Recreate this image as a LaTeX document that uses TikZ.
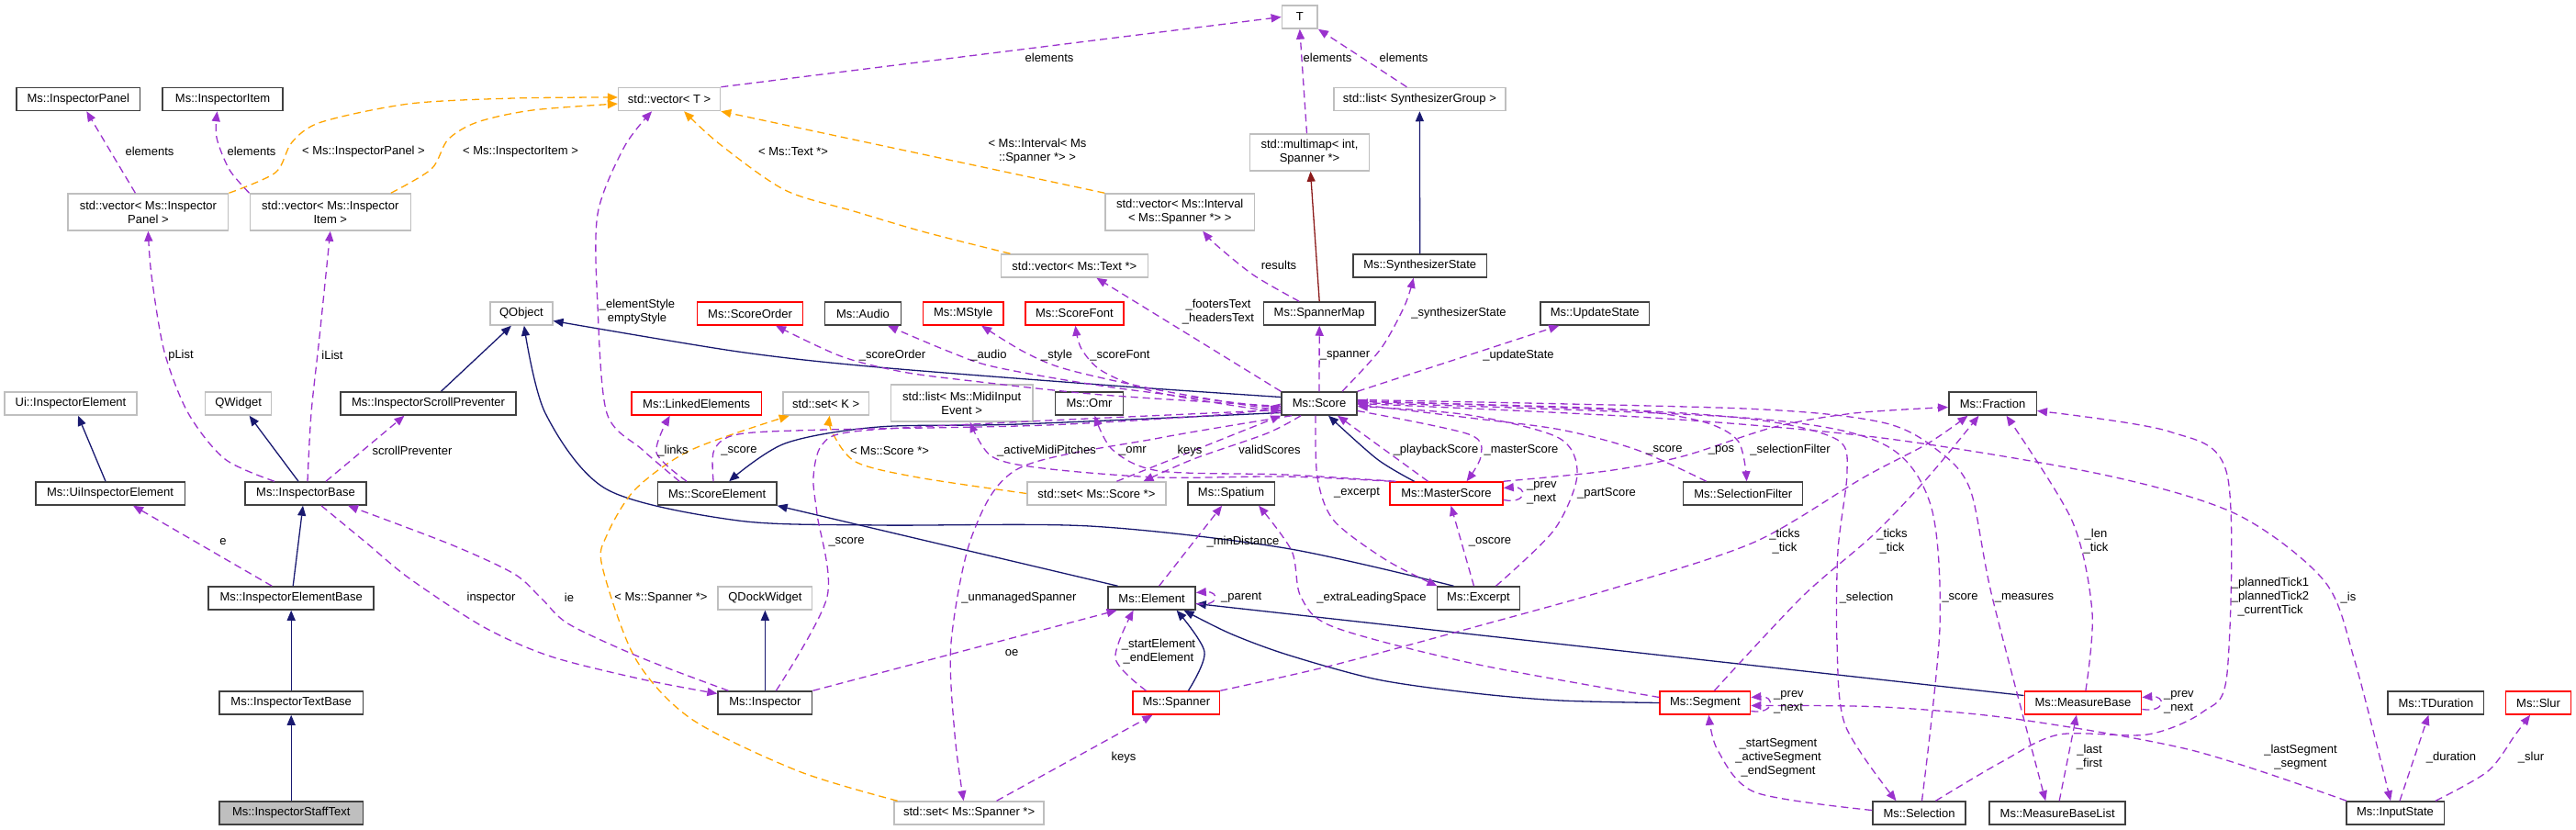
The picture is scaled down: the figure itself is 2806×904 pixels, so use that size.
\documentclass[tikz,border=0pt]{standalone}
\usepackage{fontspec}
\setmainfont{Liberation Sans}
\usetikzlibrary{arrows.meta}
\definecolor{cnavy}{HTML}{191970}
\definecolor{cpurple}{HTML}{9A32CD}
\definecolor{corange}{HTML}{FFA500}
\definecolor{cdred}{HTML}{8B1A1A}
\definecolor{cgrayb}{HTML}{BFBFBF}
\definecolor{cblackb}{HTML}{404040}
\definecolor{credb}{HTML}{FF0000}
\begin{document}
\begin{tikzpicture}[x=1pt,y=-1pt,
 font=\fontsize{13}{15}\selectfont,
 box/.style={draw, line width=1.5pt, rectangle, minimum height=25pt, inner sep=0pt, align=center},
 boxB/.style={box, draw=cblackb},
 boxG/.style={box, draw=cgrayb},
 boxR/.style={box, draw=credb},
 tall/.style={minimum height=40pt},
 lbl/.style={inner sep=0pt, align=center},
 lbll/.style={inner sep=0pt, align=left, anchor=west},
 tip/.style={-{Triangle[length=11pt,width=9pt]}},
 edgeU/.style={draw=cpurple, line width=1.3pt, dash pattern=on 8pt off 5pt, tip},
 edgeT/.style={draw=corange, line width=1.3pt, dash pattern=on 8pt off 5pt, tip},
 edgeI/.style={draw=cnavy, line width=1.3pt, tip},
 edgeR/.style={draw=cdred, line width=1.3pt, tip}]
\useasboundingbox (0,0) rectangle (2806,904);
% nodes
\node[boxB, minimum width=134.8pt] (ipanel) at (85.3,108) {Ms::InspectorPanel};
\node[boxB, minimum width=130.8pt] (iitem) at (242.6,108) {Ms::InspectorItem};
\node[boxG, tall, minimum width=174.6pt] (vpanel) at (161.4,231) {std::vector< Ms::Inspector\\Panel >};
\node[boxG, tall, minimum width=175pt] (vitem) at (359.8,231) {std::vector< Ms::Inspector\\Item >};
\node[boxG, minimum width=111pt] (vt) at (729.1,108) {std::vector< T >};
\node[boxG, minimum width=38.8pt] (tt) at (1415.8,18.5) {T};
\node[boxG, minimum width=186.8pt] (lsg) at (1546.4,108) {std::list< SynthesizerGroup >};
\node[boxG, tall, minimum width=129.6pt] (mmap) at (1426.5,166) {std::multimap< int,\\Spanner *>};
\node[boxG, tall, minimum width=162.3pt] (vint) at (1285.2,231) {std::vector< Ms::Interval\\< Ms::Spanner *> >};
\node[boxG, minimum width=160pt] (vtext) at (1170.4,289.5) {std::vector< Ms::Text *>};
\node[boxB, minimum width=145.4pt] (synth) at (1546.7,289.5) {Ms::SynthesizerState};
\node[boxG, minimum width=67.9pt] (qobj) at (567.9,341.5) {QObject};
\node[boxR, minimum width=114.8pt] (sorder) at (817.1,341.5) {Ms::ScoreOrder};
\node[boxB, minimum width=83pt] (audio) at (940,341.5) {Ms::Audio};
\node[boxR, minimum width=87.3pt] (mstyle) at (1049.2,341.5) {Ms::MStyle};
\node[boxR, minimum width=107pt] (sfont) at (1170.4,341.5) {Ms::ScoreFont};
\node[boxB, minimum width=121.5pt] (smap) at (1437.2,341.5) {Ms::SpannerMap};
\node[boxB, minimum width=118.4pt] (ustate) at (1737.2,341.5) {Ms::UpdateState};
\node[boxG, minimum width=144pt] (uiie) at (77,439.5) {Ui::InspectorElement};
\node[boxG, minimum width=71.9pt] (qwidget) at (259.6,439.5) {QWidget};
\node[boxB, minimum width=191pt] (isp) at (466.5,439.5) {Ms::InspectorScrollPreventer};
\node[boxR, minimum width=141.8pt] (linked) at (758.7,439.5) {Ms::LinkedElements};
\node[boxG, minimum width=93.4pt] (setk) at (899.7,439.5) {std::set< K >};
\node[boxG, tall, minimum width=154.6pt] (lmidi) at (1047.7,439) {std::list< Ms::MidiInput\\Event >};
\node[boxB, minimum width=74pt] (omr) at (1186.5,439.5) {Ms::Omr};
\node[boxB, minimum width=82pt] (score) at (1437,439.5) {Ms::Score};
\node[boxB, minimum width=95.5pt] (fraction) at (2170.5,439.5) {Ms::Fraction};
\node[boxB, minimum width=162.5pt] (uiiel) at (120,537.5) {Ms::UiInspectorElement};
\node[boxB, minimum width=132pt] (ibase) at (333,537.5) {Ms::InspectorBase};
\node[boxB, minimum width=129.6pt] (selem) at (781.1,537.5) {Ms::ScoreElement};
\node[boxG, minimum width=151pt] (sets) at (1194.4,537.5) {std::set< Ms::Score *>};
\node[boxB, minimum width=94.4pt] (spatium) at (1341.1,537.5) {Ms::Spatium};
\node[boxR, minimum width=123pt] (master) at (1575.5,537.5) {Ms::MasterScore};
\node[boxB, minimum width=130pt] (sfilter) at (1898.7,537.5) {Ms::SelectionFilter};
\node[boxB, minimum width=180pt] (ieb) at (317.2,651.5) {Ms::InspectorElementBase};
\node[boxG, minimum width=102.6pt] (qdock) at (833.4,651.5) {QDockWidget};
\node[boxB, minimum width=94.9pt] (element) at (1254.6,651.5) {Ms::Element};
\node[boxB, minimum width=90.3pt] (excerpt) at (1610.5,651.5) {Ms::Excerpt};
\node[boxB, minimum width=156.7pt] (itb) at (317.2,765.5) {Ms::InspectorTextBase};
\node[boxB, minimum width=102.6pt] (inspector) at (833.4,765.5) {Ms::Inspector};
\node[boxR, minimum width=94.4pt] (spanner) at (1281.4,765.5) {Ms::Spanner};
\node[boxR, minimum width=98.4pt] (segment) at (1857.4,765.5) {Ms::Segment};
\node[boxR, minimum width=127.3pt] (mbase) at (2268.9,765.5) {Ms::MeasureBase};
\node[boxB, minimum width=104.6pt] (tdur) at (2653.4,765.5) {Ms::TDuration};
\node[boxR, minimum width=71.4pt] (slur) at (2765,765.5) {Ms::Slur};
\node[boxB, fill=cgrayb, minimum width=156.7pt] (ist) at (317.2,885.5) {Ms::InspectorStaffText};
\node[boxG, minimum width=163.2pt] (setsp) at (1055.6,885.5) {std::set< Ms::Spanner *>};
\node[boxB, minimum width=101.3pt] (selection) at (2090.5,885.5) {Ms::Selection};
\node[boxB, minimum width=148pt] (mbl) at (2241.2,885.5) {Ms::MeasureBaseList};
\node[boxB, minimum width=106.5pt] (istate) at (2609,885.5) {Ms::InputState};
% inheritance
\draw[edgeI] (synth.north) -- (lsg.south);
\draw[edgeR] (smap.north) -- ([xshift=1pt]mmap.south);
\draw[edgeI] plot[smooth] coordinates {([yshift=7pt]score.west) (1212,420) (957,400) (804,383) ([yshift=-8pt]qobj.east)};
\draw[edgeI] plot[smooth] coordinates {([yshift=-10pt]score.west) (1110,462) (957,465) (855,483) ([xshift=13pt]selem.north)};
\draw[edgeI] plot[smooth] coordinates {([xshift=-27pt]excerpt.north) (1400,597) (1187,573) (957,572) (804,567) (661,533) (594,450) ([xshift=3pt]qobj.south)};
\draw[edgeI] ([xshift=14pt]isp.north) -- ([xshift=-11pt]qobj.south);
\draw[edgeI] ([xshift=-8pt]ibase.north) -- ([xshift=12pt]qwidget.south);
\draw[edgeI] ([xshift=-5pt]uiiel.north) -- ([xshift=8pt]uiie.south);
\draw[edgeI] ([xshift=2pt]ieb.north) -- ([xshift=-3pt]ibase.south);
\draw[edgeI] (itb.north) -- (ieb.south);
\draw[edgeI] (ist.north) -- (itb.south);
\draw[edgeI] (inspector.north) -- (qdock.south);
\draw[edgeI] plot[smooth] coordinates {([xshift=-35pt]master.north) (1500,500) ([xshift=10pt]score.south)};
\draw[edgeI] ([yshift=8pt]mbase.west) -- ([yshift=-6pt]element.east);
\draw[edgeI] plot[smooth] coordinates {(segment.west) (1700,763) (1606,755) (1500,740) (1402,713) (1340,690) ([xshift=35pt]element.south)};
\draw[edgeI] plot[smooth] coordinates {([xshift=13pt]spanner.north) (1312,710) ([xshift=27pt]element.south)};
\draw[edgeI] ([xshift=-37pt]element.north) -- (selem.south east);
% templates
\draw[edgeT] plot[smooth] coordinates {(vpanel.north east) (300,188) (318,155) (350,133) (446,113) (560,107) ([yshift=2pt]vt.west)};
\draw[edgeT] plot[smooth] coordinates {([xshift=66pt]vitem.north) (470,184) (488,152) (520,133) (580,120) ([yshift=-5pt]vt.west)};
\draw[edgeT] (vint.north west) -- (vt.south east);
\draw[edgeT] plot[smooth] coordinates {([xshift=-70pt]vtext.north) (1008,253) (930,230) (855,207) (784,157) ([xshift=16pt]vt.south)};
\draw[edgeT] plot[smooth] coordinates {([xshift=-78pt]setsp.north) (870,840) (753,783) (692,717) (656,617) (661,583) (692,533) (753,490) ([xshift=-40pt]setk.south)};
\draw[edgeT] plot[smooth] coordinates {(sets.west) (1000,520) (932,503) (906,470) ([xshift=4pt]setk.south)};
% usage
\draw[edgeU] ([xshift=-14pt]vpanel.north) -- ([xshift=9pt]ipanel.south);
\draw[edgeU] plot[smooth] coordinates {(vitem.north west) (250,185) (236,150) ([xshift=-6pt]iitem.south)};
\draw[edgeU] (vt.north east) -- (tt.west);
\draw[edgeU] ([xshift=-3pt]mmap.north) -- (tt.south);
\draw[edgeU] ([xshift=-14pt]lsg.north) -- (tt.south east);
\draw[edgeU] plot[smooth] coordinates {([xshift=-22pt]smap.north) (1366,300) (1325,267) ([xshift=25pt]vint.south)};
\draw[edgeU] (score.north west) -- ([xshift=24pt]vtext.south);
\draw[edgeU] (score.north) -- (smap.south);
\draw[edgeU] plot[smooth] coordinates {([xshift=25pt]score.north) (1504,380) (1530,333) ([xshift=-7pt]synth.south)};
\draw[edgeU] (score.north east) -- ([xshift=-39pt]ustate.south);
\draw[edgeU] plot[smooth] coordinates {([yshift=-3pt]score.west) (1200,430) (1059,415) (983,405) (916,388) ([xshift=28pt]sorder.south)};
\draw[edgeU] plot[smooth] coordinates {([yshift=-5pt]score.west) (1212,422) (1085,400) (1034,383) ([xshift=27pt]audio.south)};
\draw[edgeU] plot[smooth] coordinates {([yshift=-8pt]score.west) (1263,425) (1161,402) (1115,383) ([xshift=20pt]mstyle.south)};
\draw[edgeU] plot[smooth] coordinates {([yshift=-10pt]score.west) (1263,428) (1202,405) (1178,380) ([xshift=1pt]sfont.south)};
\draw[edgeU] plot[smooth] coordinates {([xshift=-34pt]ibase.north) (245,500) (205,450) (179,383) (165,300) (vpanel.south)};
\draw[edgeU] plot[smooth] coordinates {([xshift=2pt]ibase.north) (339,450) (348,367) (vitem.south)};
\draw[edgeU] ([xshift=22pt]ibase.north) -- ([xshift=-26pt]isp.south);
\draw[edgeU] ([xshift=-21pt]ieb.north) -- ([xshift=25pt]uiiel.south);
\draw[edgeU] plot[smooth] coordinates {([xshift=17pt]ibase.south) (400,592) (446,630) (527,683) (600,715) (700,740) ([yshift=10pt]inspector.west)};
\draw[edgeU] plot[smooth] coordinates {([xshift=-40pt]inspector.north) (700,717) (620,680) (590,652) (560,625) (491,593) ([xshift=46pt]ibase.south)};
\draw[edgeU] plot[smooth] coordinates {([xshift=12pt]inspector.north) (901,650) (890,560) (886,520) (895,485) (930,470) (1100,460) ([yshift=-7pt]score.west)};
\draw[edgeU] plot[smooth] coordinates {([xshift=-4pt]selem.north) (778,490) (804,473) (900,468) (1141,463) (1350,450) (score.west)};
\draw[edgeU] plot[smooth] coordinates {([xshift=-33pt]selem.north) (715,493) ([xshift=-29pt]linked.south)};
\draw[edgeU] plot[smooth] coordinates {([xshift=-41pt]selem.north) (700,490) (661,450) (651,333) (651,233) (680,160) ([xshift=-19pt]vt.south)};
\draw[edgeU] ([xshift=30pt]setsp.north) -- ([xshift=-26pt]spanner.south);
\draw[edgeU] plot[smooth] coordinates {([xshift=-30pt]score.south) (1263,477) (1110,510) (1059,583) (1036,700) (1040,800) ([xshift=-6pt]setsp.north)};
\draw[edgeU] ([xshift=22pt]sets.north) -- (score.south west);
\draw[edgeU] plot[smooth] coordinates {([xshift=-20pt]score.south) (1380,472) (1300,500) ([xshift=51pt]sets.north)};
\draw[edgeU] plot[smooth] coordinates {([xshift=-60pt]master.north) (1400,519) (1263,520) (1136,510) (1080,497) ([xshift=9pt]lmidi.south)};
\draw[edgeU] plot[smooth] coordinates {([xshift=-55pt]master.north) (1400,517) (1263,513) (1212,490) ([xshift=6pt]omr.south)};
\draw[edgeU] ([xshift=-20pt]master.north) -- ([xshift=20pt]score.south);
\draw[edgeU] plot[smooth] coordinates {([yshift=-8pt]score.east) (1600,473) (1613,497) ([xshift=22pt]master.north)};
\draw[edgeU] ([yshift=-7pt]master.east) .. controls +(26,5) and +(26,-2) .. ([yshift=6pt]master.east);
\draw[edgeU] plot[smooth] coordinates {([xshift=-4pt]score.south) (1435,520) (1453,567) (1510,610) ([xshift=-45pt]excerpt.north)};
\draw[edgeU] ([xshift=-5pt]excerpt.north) -- ([xshift=5pt]master.south);
\draw[edgeU] plot[smooth] coordinates {([xshift=19pt]excerpt.north) (1693,577) (1718,517) (1698,477) (1600,452) ([yshift=-3pt]score.east)};
\draw[edgeU] plot[smooth] coordinates {(master.north east) (1750,513) (1833,497) (1933,465) (2020,450) ([yshift=-4pt]fraction.west)};
\draw[edgeU] plot[smooth] coordinates {([yshift=2pt]score.east) (1750,445) (1850,458) (1893,480) ([xshift=4pt]sfilter.north)};
\draw[edgeU] plot[smooth] coordinates {([xshift=-40pt]sfilter.north) (1783,490) (1700,468) (1600,455) ([yshift=-1pt]score.east)};
\draw[edgeU] plot[smooth] coordinates {([yshift=3pt]score.east) (1800,448) (1933,460) (2003,480) (2012,515) (2002,600) (2001,700) (2010,790) ([xshift=-25pt]selection.north)};
\draw[edgeU] plot[smooth] coordinates {([xshift=3pt]selection.north) (2113,683) (2103,550) (2050,483) (1900,455) ([yshift=1pt]score.east)};
\draw[edgeU] plot[smooth] coordinates {([yshift=4pt]score.east) (1900,445) (2050,460) (2110,490) (2146,533) (2170,650) ([xshift=-13pt]mbl.north)};
\draw[edgeU] plot[smooth] coordinates {(score.east) (1800,455) (2050,477) (2291,517) (2436,560) (2532,633) (2565,720) ([xshift=-5pt]istate.north)};
\draw[edgeU] plot[smooth] coordinates {(spanner.north east) (1450,725) (1606,683) (1760,640) (1912,590) (2030,520) (2100,483) ([xshift=-27pt]fraction.south)};
\draw[edgeU] plot[smooth] coordinates {([xshift=10pt]segment.north) (1963,650) (2040,583) (2100,520) ([xshift=-15pt]fraction.south)};
\draw[edgeU] plot[smooth] coordinates {([xshift=3pt]mbase.north) (2279,667) (2257,567) ([xshift=15pt]fraction.south)};
\draw[edgeU] plot[smooth] coordinates {([xshift=18pt]selection.north) (2180,830) (2243,800) (2339,800) (2400,775) (2426,733) (2426,517) (2363,470) ([yshift=-8pt]fraction.east)};
\draw[edgeU] ([yshift=-9pt]segment.east) .. controls +(26,4) and +(26,-2) .. ([yshift=6pt]segment.east);
\draw[edgeU] plot[smooth] coordinates {([xshift=-53pt]istate.north) (2387,817) (2195,783) (2050,770) ([yshift=-3pt]segment.east)};
\draw[edgeU] plot[smooth] coordinates {([yshift=3pt]selection.west) (1912,863) (1871,817) ([xshift=4pt]segment.south)};
\draw[edgeU] ([yshift=-7pt]mbase.east) .. controls +(26,4) and +(26,-2) .. ([yshift=6pt]mbase.east);
\draw[edgeU] ([xshift=2pt]mbl.north) -- ([xshift=-7pt]mbase.south);
\draw[edgeU] ([xshift=5pt]istate.north) -- ([xshift=-8pt]tdur.south);
\draw[edgeU] plot[smooth] coordinates {([xshift=44pt]istate.north) (2710,840) (2740,800) ([xshift=-9pt]slur.south)};
\draw[edgeU] plot[smooth] coordinates {([xshift=-33pt]spanner.north) (1215,717) ([xshift=-20pt]element.south)};
\draw[edgeU] ([yshift=-6pt]element.east) .. controls +(26,4) and +(26,-2) .. ([yshift=6pt]element.east);
\draw[edgeU] (inspector.north east) -- ([xshift=-38pt]element.south);
\draw[edgeU] ([xshift=8pt]element.north) -- ([xshift=-10pt]spatium.south);
\draw[edgeU] plot[smooth] coordinates {([yshift=6pt]segment.west) (1606,723) (1453,683) (1417,650) (1407,600) ([xshift=30pt]spatium.south)};
% labels
\node[lbl] (L1) at (163,165) {elements};
\node[lbl] (L2) at (274,165) {elements};
\node[lbl] (L3) at (396,165) {< Ms::InspectorPanel >};
\node[lbl] (L4) at (567,165) {< Ms::InspectorItem >};
\node[lbl] (L5) at (1143,63) {elements};
\node[lbl] (L6) at (1446,63) {elements};
\node[lbl] (L7) at (1529,63) {elements};
\node[lbl] (L8) at (1130,165) {< Ms::Interval< Ms\\::Spanner *> >};
\node[lbl] (L9) at (864,165) {< Ms::Text *>};
\node[lbl] (L10) at (1393,289) {results};
\node[lbl] (L11) at (1327,340) {\_footersText\\\_headersText};
\node[lbl] (L12) at (1465,387) {\_spanner};
\node[lbl] (L13) at (1589,341) {\_synthesizerState};
\node[lbl] (L14) at (1654,387) {\_updateState};
\node[lbl] (L15) at (694,340) {\_elementStyle\\emptyStyle};
\node[lbl] (L16) at (972,387) {\_scoreOrder};
\node[lbl] (L17) at (1077,387) {\_audio};
\node[lbl] (L18) at (1151,387) {\_style};
\node[lbl] (L19) at (1220,387) {\_scoreFont};
\node[lbl] (L20) at (197,387) {pList};
\node[lbl] (L21) at (362,387) {iList};
\node[lbl] (L22) at (449,491) {scrollPreventer};
\node[lbl] (L23) at (243,590) {e};
\node[lbl] (L24) at (535,651) {inspector};
\node[lbl] (L25) at (620,651) {ie};
\node[lbl] (L26) at (733,491) {\_links};
\node[lbl] (L27) at (805,491) {\_score};
\node[lbl] (L28) at (969,491) {< Ms::Score *>};
\node[lbl] (L29) at (1140,491) {\_activeMidiPitches};
\node[lbl] (L30) at (1234,491) {\_omr};
\node[lbl] (L31) at (1296,491) {keys};
\node[lbl] (L32) at (1383,490) {validScores};
\node[lbl] (L33) at (1564,490) {\_playbackScore};
\node[lbl] (L34) at (1657,490) {\_masterScore};
\node[lbl] (L35) at (1813,490) {\_score};
\node[lbl] (L36) at (1875,490) {\_pos};
\node[lbl] (L37) at (1950,490) {\_selectionFilter};
\node[lbll] (L38) at (1663,537) {\_prev\\\_next};
\node[lbl] (L39) at (1478,537) {\_excerpt};
\node[lbl] (L40) at (1750,537) {\_partScore};
\node[lbl] (L41) at (1354,590) {\_minDistance};
\node[lbl] (L42) at (1623,590) {\_oscore};
\node[lbl] (L43) at (922,590) {\_score};
\node[lbl] (L44) at (1944,590) {\_ticks\\\_tick};
\node[lbl] (L45) at (2061,590) {\_ticks\\\_tick};
\node[lbl] (L46) at (2283,590) {\_len\\\_tick};
\node[lbl] (L47) at (2135,651) {\_score};
\node[lbl] (L48) at (2205,651) {\_measures};
\node[lbl] (L49) at (2033,651) {\_selection};
\node[lbl] (L50) at (2473,650) {\_plannedTick1\\\_plannedTick2\\\_currentTick};
\node[lbl] (L51) at (2558,651) {\_is};
\node[lbll] (L52) at (1330,651) {\_parent};
\node[lbl] (L53) at (1494,651) {\_extraLeadingSpace};
\node[lbl] (L54) at (1110,651) {\_unmanagedSpanner};
\node[lbl] (L55) at (720,651) {< Ms::Spanner *>};
\node[lbl] (L56) at (1102,711) {oe};
\node[lbl] (L57) at (1262,710) {\_startElement\\\_endElement};
\node[lbll] (L58) at (1932,765) {\_prev\\\_next};
\node[lbll] (L59) at (2357,765) {\_prev\\\_next};
\node[lbl] (L60) at (1224,825) {keys};
\node[lbl] (L61) at (1937,825) {\_startSegment\\\_activeSegment\\\_endSegment};
\node[lbl] (L62) at (2276,825) {\_last\\\_first};
\node[lbl] (L63) at (2506,825) {\_lastSegment\\\_segment};
\node[lbl] (L64) at (2670,825) {\_duration};
\node[lbl] (L65) at (2757,825) {\_slur};
\end{tikzpicture}
\end{document}
